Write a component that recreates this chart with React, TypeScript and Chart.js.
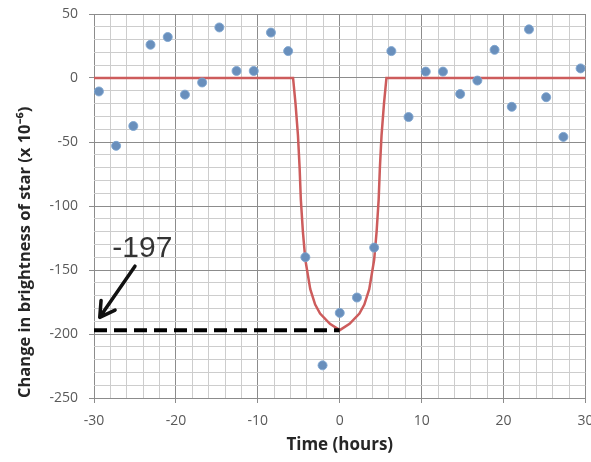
import React, { useEffect, useRef } from "react";
import { Chart, registerables } from "chart.js";

Chart.register(...registerables);

// Observed brightness change (x 10^-6) vs time (hours)
const obsHours = [-29.4, -27.3, -25.2, -23.1, -21.0, -18.9, -16.8, -14.7, -12.6, -10.5, -8.4, -6.3, -4.2, -2.1, 0, 2.1, 4.2, 6.3, 8.4, 10.5, 12.6, 14.7, 16.8, 18.9, 21.0, 23.1, 25.2, 27.3, 29.4];
const obsBrightness = [-10.5, -53, -37.5, 26, 32, -13, -3.5, 39.5, 5.5, 5.5, 35.5, 21, -140, -224.5, -183.5, -171.5, -132.5, 21, -30.5, 5, 5, -12.5, -2, 22, -22.5, 38, -15, -46, 7.5];

// Transit model curve
const modelHours = [-30, -5.7, -5.4, -5.1, -4.9, -4.75, -4.5, -4.2, -3.6, -3.0, -2.4, -1.2, 0, 1.2, 2.4, 3.0, 3.6, 4.2, 4.5, 4.75, 4.9, 5.1, 5.4, 5.7, 30];
const modelBrightness = [0, 0, -20, -45, -70, -95, -120, -142, -165, -177, -184, -192, -197, -192, -184, -177, -165, -142, -120, -95, -70, -45, -20, 0, 0];

// Depth marker
const depthValue = -197;
const depthHours = [-30, 0];
const depthLabel = "-197";
const arrowTail = { x: -25.0, y: -147 };
const arrowTip = { x: -29.3, y: -187 };
const labelPos = { x: -24.1, y: -140 };

// Axes
const xMin = -30, xMax = 30, xStep = 2, xMajor = 10;
const yMin = -250, yMax = 50, yStep = 10, yMajor = 50;
const xTitle = "Time (hours)";
const yTitle = "Change in brightness of star (x 10\u207B\u2076)";

const MAJOR = "rgb(140,140,140)";
const MINOR = "rgb(205,205,205)";

const annotationPlugin = {
  id: "depthAnnotation",
  afterDatasetsDraw(chart: any) {
    const { ctx, scales } = chart;
    const xs = scales.x, ys = scales.y;
    const tx = xs.getPixelForValue(arrowTip.x), ty = ys.getPixelForValue(arrowTip.y);
    const sx = xs.getPixelForValue(arrowTail.x), sy = ys.getPixelForValue(arrowTail.y);
    ctx.save();
    ctx.strokeStyle = "#111";
    ctx.lineWidth = 3.5;
    ctx.lineCap = "round";
    ctx.lineJoin = "round";
    ctx.beginPath();
    ctx.moveTo(sx, sy);
    ctx.lineTo(tx, ty);
    const ang = Math.atan2(sy - ty, sx - tx);
    const hl = 17, spread = Math.PI / 6;
    ctx.moveTo(tx + hl * Math.cos(ang - spread), ty + hl * Math.sin(ang - spread));
    ctx.lineTo(tx, ty);
    ctx.lineTo(tx + hl * Math.cos(ang + spread), ty + hl * Math.sin(ang + spread));
    ctx.stroke();
    ctx.fillStyle = "#333";
    ctx.font = "30px 'Liberation Sans', Arial, sans-serif";
    ctx.textAlign = "center";
    ctx.textBaseline = "alphabetic";
    ctx.fillText(depthLabel, xs.getPixelForValue(labelPos.x), ys.getPixelForValue(labelPos.y));
    ctx.restore();
  },
};

export default function App() {
  const ref = useRef<HTMLCanvasElement>(null);
  useEffect(() => {
    if (!ref.current) return;
    const chart = new Chart(ref.current, {
      type: "scatter",
      data: {
        datasets: [
          {
            label: "Observed",
            data: obsHours.map((h, i) => ({ x: h, y: obsBrightness[i] })),
            showLine: false,
            pointRadius: 4.5,
            pointBackgroundColor: "rgb(105,143,188)",
            pointBorderColor: "rgba(125,165,208,0.9)",
            pointBorderWidth: 1,
            order: 0,
          },
          {
            label: "Depth",
            data: depthHours.map((h) => ({ x: h, y: depthValue })),
            showLine: true,
            borderColor: "#000",
            borderWidth: 4,
            borderDash: [13, 7],
            pointRadius: 0,
            order: 1,
          },
          {
            label: "Model",
            data: modelHours.map((h, i) => ({ x: h, y: modelBrightness[i] })),
            showLine: true,
            borderColor: "rgb(205,92,92)",
            borderWidth: 2.5,
            pointRadius: 0,
            tension: 0,
            order: 2,
          },
        ],
      },
      options: {
        responsive: false,
        animation: false,
        layout: { padding: { left: 0, right: 3, top: 14, bottom: 0 } },
        plugins: { legend: { display: false }, tooltip: { enabled: false } },
        scales: {
          x: {
            type: "linear",
            min: xMin,
            max: xMax,
            ticks: {
              stepSize: xStep,
              autoSkip: false,
              maxRotation: 0,
              padding: 10,
              color: "#595959",
              font: { family: "'Open Sans', sans-serif", size: 14 },
              callback: (v: any) => (Math.round(v) % xMajor === 0 ? String(v) : ""),
            },
            grid: {
              color: (c: any) => (Math.round(c.tick.value) % xMajor === 0 ? MAJOR : MINOR),
              tickColor: (c: any) => (Math.round(c.tick.value) % xMajor === 0 ? MAJOR : "transparent"),
              tickLength: 5,
              lineWidth: 1,
            },
            border: { display: false },
            title: {
              display: true,
              text: xTitle,
              color: "#262626",
              font: { family: "'Open Sans', sans-serif", size: 17, weight: "bold" },
              padding: { top: 0, bottom: 7 },
            },
            afterFit: (s: any) => {
              s.height = 64;
              s.paddingLeft = 0;
              s.paddingRight = 0;
            },
          },
          y: {
            type: "linear",
            min: yMin,
            max: yMax,
            ticks: {
              stepSize: yStep,
              autoSkip: false,
              padding: 11,
              color: "#595959",
              font: { family: "'Open Sans', sans-serif", size: 14 },
              callback: (v: any) => (Math.round(v) % yMajor === 0 ? String(v) : ""),
            },
            grid: {
              color: (c: any) => (Math.round(c.tick.value) % yMajor === 0 ? MAJOR : MINOR),
              tickColor: (c: any) => (Math.round(c.tick.value) % yMajor === 0 ? MAJOR : "transparent"),
              tickLength: 5,
              lineWidth: 1,
            },
            border: { display: false },
            title: {
              display: true,
              text: yTitle,
              align: "start",
              color: "#262626",
              font: { family: "'Open Sans', sans-serif", size: 16.5, weight: "bold" },
              padding: { top: 15, bottom: 0 },
            },
            afterFit: (s: any) => {
              s.width = 94;
              s.paddingTop = 0;
              s.paddingBottom = 0;
            },
          },
        },
      },
      plugins: [annotationPlugin],
    } as any);
    return () => chart.destroy();
  }, []);
  return (
    <div style={{ position: "fixed", left: 0, top: 0, width: 591, height: 462, overflow: "hidden", background: "#fff" }}>
      <canvas ref={ref} width={591} height={462} style={{ display: "block" }} />
    </div>
  );
}
